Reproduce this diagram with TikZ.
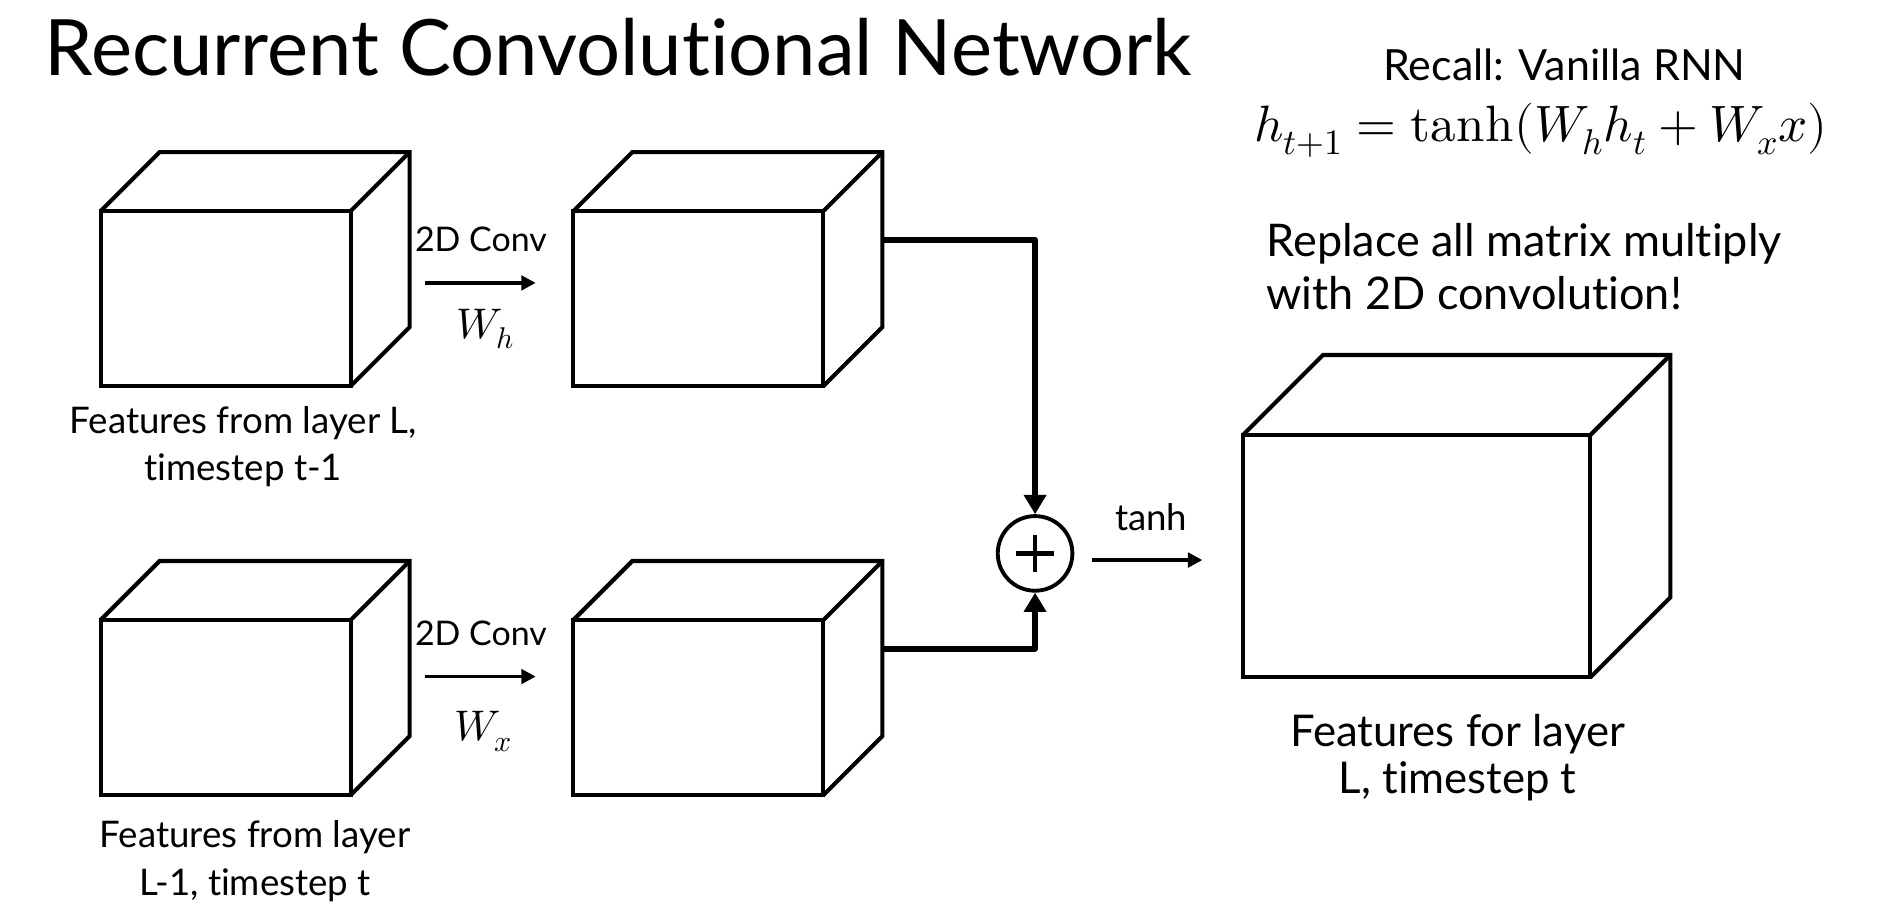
\documentclass[tikz,border=0pt]{standalone}
\usepackage{fontspec}
\usepackage{unicode-math}
\setmainfont{Lato}[Ligatures=NoCommon]
\setmathfont{Latin Modern Math}
\usetikzlibrary{arrows.meta,calc}
\newlength\fitlen
\newcommand\setfit[3]{\settowidth\fitlen{\fontsize{10pt}{12pt}\selectfont #3}\pgfmathsetmacro#1{10*#2/\fitlen}}
\newcommand\fs[1]{\fontsize{#1pt}{#1pt}\selectfont}
\newcommand\drawcube[6]{% name, left x, top y, w, h, d
  \node[face, minimum width=#4pt, minimum height=#5pt, anchor=north west] (#1) at (#2,#3) {};
  \draw[edge] (#1.north west) -- ++(#6,-#6) -- ++(#4,0) -- ++(0,#5) -- (#1.south east);
  \draw[edge] (#1.north east) -- ++(#6,-#6);
}
\newcommand\eqn{$h_{t+1}=\symup{tanh}(W_hh_t+W_xx)$}
\tikzset{
  edge/.style={line width=3.4pt, line join=miter},
  face/.style={draw, line width=3.4pt, line join=miter, inner sep=0pt, outer sep=0pt},
  txt/.style={inner sep=0pt, outer sep=0pt, anchor=base},
  conn/.style={line width=5pt, line join=round, -{Triangle[width=18pt,length=16pt]}},
  arr/.style={line width=3pt, -{Triangle[width=12pt,length=12pt]}},
  sumnode/.style={circle, draw, line width=3.2pt, minimum size=62pt, inner sep=0pt, outer sep=1.6pt},
}
\AtBeginDocument{%
\setfit\szTitle{953}{Recurrent Convolutional Network}%
\setfit\szRecall{301}{Recall: Vanilla RNN}%
\setfit\szEq{494.5}{\eqn}%
\setfit\szRep{428}{Replace all matrix multiply}%
\setfit\szConv{109.5}{2D Conv}%
\setfit\szW{52}{$W_h$}%
\setfit\szTanh{60}{tanh}%
\setfit\szLab{258}{Features from layer}%
\setfit\szBig{278}{Features for layer}%
}
\begin{document}
\begin{tikzpicture}[x=1pt,y=-1pt]
\useasboundingbox (0,0) rectangle (1560,757.6);
\fill[white] (0,0) rectangle (1560,757.6);

% cubes
\drawcube{c1}{83.6}{175.3}{207.7}{145.4}{49}
\drawcube{c2}{476.3}{175.3}{207.7}{145.4}{49}
\drawcube{c3}{83.6}{515}{207.7}{145.4}{49}
\drawcube{c4}{476.3}{515}{207.7}{145.4}{49}
\drawcube{c5}{1032.5}{361.4}{288.5}{201.3}{66.5}

% sum node
\node[sumnode] (sum) at (859.8,459.7) {};
\draw[line width=3.6pt] ($(sum.center)+(-15.5,0)$) -- ($(sum.center)+(15.5,0)$);
\draw[line width=3.6pt] ($(sum.center)+(0,-15.5)$) -- ($(sum.center)+(0,15.5)$);

% connectors
\coordinate (c2out) at ($(c2.east)+(49,-49)$);
\coordinate (c4out) at ($(c4.east)+(49,-49)$);
\draw[conn] (c2out) -| (sum.north);
\draw[conn] (c4out) -| (sum.south);

% small arrows
\coordinate (a1s) at (353,235);
\coordinate (a1e) at (445,235);
\coordinate (a2s) at (353,562);
\coordinate (a2e) at (445,562);
\coordinate (a3s) at (907.4,465.2);
\coordinate (a3e) at (998.8,465.2);
\draw[arr] (a1s) -- (a1e);
\draw[arr] (a2s) -- (a2e);
\draw[arr] (a3s) -- (a3e);

% texts
\node[txt, font=\fs\szTitle] (title) at (513.7,63) {Recurrent Convolutional Network};
\node[txt, font=\fs\szRecall] (recall) at (1299.5,67) {Recall: Vanilla RNN};
\node[txt, font=\fs\szEq] (eq) at (1280,117.7) {\eqn};
\node[txt, font=\fs\szRep, anchor=base west] (rep1) at (1052,213.2) {Replace all matrix multiply};
\node[txt, font=\fs\szRep, anchor=base west] (rep2) at (1052,257.5) {with 2D convolution!};

\node[txt, font=\fs\szConv] (conv1) at (399.5,209) {2D Conv};
\node[txt, font=\fs\szW] (wh) at (403,281) {$W_h$};
\node[txt, font=\fs\szConv] (conv2) at (399.5,536) {2D Conv};
\node[txt, font=\fs\szW] (wx) at (401.5,615.3) {$W_x$};
\node[txt, font=\fs\szTanh] (tanh) at (956.2,440.8) {tanh};

\node[txt, font=\fs\szLab] (l1a) at (202,360.5) {Features from layer L,};
\node[txt, font=\fs\szLab] (l1b) at (202,399) {timestep t-1};
\node[txt, font=\fs\szLab] (l2a) at (211.8,704) {Features from layer};
\node[txt, font=\fs\szLab] (l2b) at (211.8,743.5) {L-1, timestep t};
\node[txt, font=\fs\szBig] (l3a) at (1210.8,620.3) {Features for layer};
\node[txt, font=\fs\szBig] (l3b) at (1210.8,659) {L, timestep t};
\end{tikzpicture}
\end{document}
